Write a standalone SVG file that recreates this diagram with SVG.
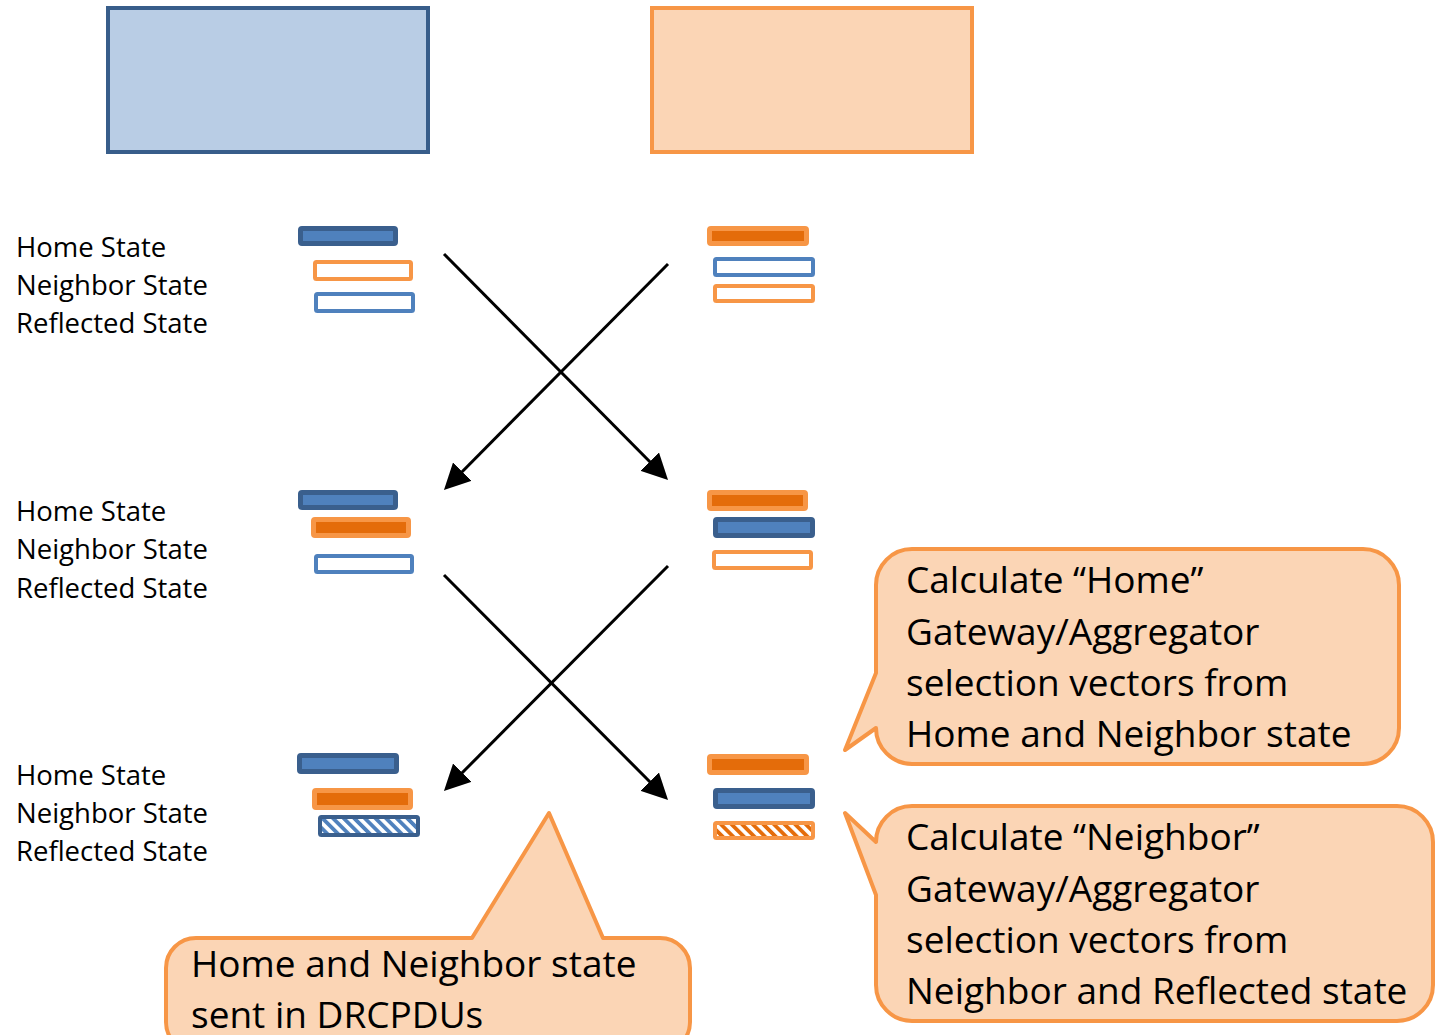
<svg xmlns="http://www.w3.org/2000/svg" width="1435" height="1035" viewBox="0 0 1435 1035">
<style>
.lbl{font-family:"Open Sans","Liberation Sans",sans-serif;font-size:27.5px;fill:#000}
.ctx{font-family:"Open Sans","Liberation Sans",sans-serif;font-size:37px;fill:#000}
.bh{fill:#4f81bd;stroke:#3a5f8d;stroke-width:5}
.oh{fill:#e46c0a;stroke:#f79646;stroke-width:5}
.bo{fill:#fff;stroke:#4f81bd;stroke-width:4}
.oo{fill:#fff;stroke:#f79646;stroke-width:4}
.bx{fill:url(#hb);stroke:#3a5f8d;stroke-width:4}
.ox{fill:url(#ho);stroke:#f79646;stroke-width:4}
.call{fill:#fbd5b5;stroke:#f79646;stroke-width:4;stroke-linejoin:round}
.arr{stroke:#000;stroke-width:3;fill:none;marker-end:url(#ah)}
</style>
<defs>
<pattern id="hb" patternUnits="userSpaceOnUse" width="7.5" height="7.5" patternTransform="rotate(-45)">
<rect width="7.5" height="7.5" fill="#fff"/><rect width="3.8" height="7.5" fill="#4f81bd"/>
</pattern>
<pattern id="ho" patternUnits="userSpaceOnUse" width="7.5" height="7.5" patternTransform="rotate(-45)">
<rect width="7.5" height="7.5" fill="#fff"/><rect width="3.8" height="7.5" fill="#e46c0a"/>
</pattern>
<marker id="ah" markerUnits="userSpaceOnUse" markerWidth="26" markerHeight="26" viewBox="0 0 26 26" refX="16" refY="13" orient="auto">
<path d="M0,0 L26,13 L0,26 Z" fill="#000"/>
</marker>
</defs>

<g id="box-home">
<rect x="108" y="8" width="320" height="144" fill="#b9cde5" stroke="#385d8a" stroke-width="4"/>
</g>
<g id="box-neighbor">
<rect x="652" y="8" width="320" height="144" fill="#fbd5b5" stroke="#f79646" stroke-width="4"/>
</g>

<g id="labels-1">
<text class="lbl" x="16" y="257">Home State</text>
<text class="lbl" x="16" y="295">Neighbor State</text>
<text class="lbl" x="16" y="333">Reflected State</text>
</g>
<g id="labels-2">
<text class="lbl" x="16" y="521">Home State</text>
<text class="lbl" x="16" y="559">Neighbor State</text>
<text class="lbl" x="16" y="598">Reflected State</text>
</g>
<g id="labels-3">
<text class="lbl" x="16" y="785">Home State</text>
<text class="lbl" x="16" y="823">Neighbor State</text>
<text class="lbl" x="16" y="861">Reflected State</text>
</g>

<g id="bars-left-1">
<rect class="bh" x="300.5" y="228.5" width="95" height="15" rx="1.5"/>
<rect class="oo" x="315" y="262" width="96" height="17" rx="1.5"/>
<rect class="bo" x="316" y="294" width="97" height="17" rx="1.5"/>
</g>
<g id="bars-right-1">
<rect class="oh" x="709.5" y="228.5" width="97" height="15" rx="1.5"/>
<rect class="bo" x="715" y="259" width="98" height="16" rx="1.5"/>
<rect class="oo" x="715" y="286" width="98" height="15" rx="1.5"/>
</g>
<g id="bars-left-2">
<rect class="bh" x="300.5" y="492.5" width="95" height="15" rx="1.5"/>
<rect class="oh" x="313.5" y="519.5" width="95" height="16" rx="1.5"/>
<rect class="bo" x="316" y="556" width="96" height="16" rx="1.5"/>
</g>
<g id="bars-right-2">
<rect class="oh" x="709.5" y="492.5" width="96" height="16" rx="1.5"/>
<rect class="bh" x="715.5" y="519.5" width="97" height="16" rx="1.5"/>
<rect class="oo" x="714" y="552" width="97" height="16" rx="1.5"/>
</g>
<g id="bars-left-3">
<rect class="bh" x="299.5" y="755.5" width="97" height="16" rx="1.5"/>
<rect class="oh" x="314.5" y="790.5" width="96" height="17" rx="1.5"/>
<rect class="bx" x="320" y="817" width="98" height="18" rx="1.5"/>
</g>
<g id="bars-right-3">
<rect class="oh" x="709.5" y="756.5" width="97" height="16" rx="1.5"/>
<rect class="bh" x="715.5" y="790.5" width="97" height="16" rx="1.5"/>
<rect class="ox" x="715" y="823" width="98" height="15" rx="1.5"/>
</g>

<g id="connectors">
<line class="arr" x1="444" y1="254" x2="661" y2="473"/>
<line class="arr" x1="668" y1="264" x2="451" y2="483"/>
<line class="arr" x1="444" y1="575" x2="661" y2="793"/>
<line class="arr" x1="668" y1="566" x2="451" y2="784"/>
</g>

<g id="callout-home">
<path class="call" d="M912,549 H1363 A36,36 0 0 1 1399,585 V728 A36,36 0 0 1 1363,764 H912 A36,36 0 0 1 876,728 L845,750 L876,673 V585 A36,36 0 0 1 912,549 Z"/>
<text class="ctx" x="906" y="593">Calculate “Home”</text>
<text class="ctx" x="906" y="644.5">Gateway/Aggregator</text>
<text class="ctx" x="906" y="696">selection vectors from</text>
<text class="ctx" x="906" y="747">Home and Neighbor state</text>
</g>

<g id="callout-neighbor">
<path class="call" d="M912,806 H1397 A36,36 0 0 1 1433,842 V985 A36,36 0 0 1 1397,1021 H912 A36,36 0 0 1 876,985 V895 L845,813 L876,842 A36,36 0 0 1 912,806 Z"/>
<text class="ctx" x="906" y="850">Calculate “Neighbor”</text>
<text class="ctx" x="906" y="901.5">Gateway/Aggregator</text>
<text class="ctx" x="906" y="953">selection vectors from</text>
<text class="ctx" x="906" y="1004">Neighbor and Reflected state</text>
</g>

<g id="callout-drcpdu">
<path class="call" d="M196,938 H472 L549,813 L603,938 H660 A30,30 0 0 1 690,968 V1022 A30,30 0 0 1 660,1052 H196 A30,30 0 0 1 166,1022 V968 A30,30 0 0 1 196,938 Z"/>
<text class="ctx" x="191" y="977">Home and Neighbor state</text>
<text class="ctx" x="191" y="1028">sent in DRCPDUs</text>
</g>
</svg>
